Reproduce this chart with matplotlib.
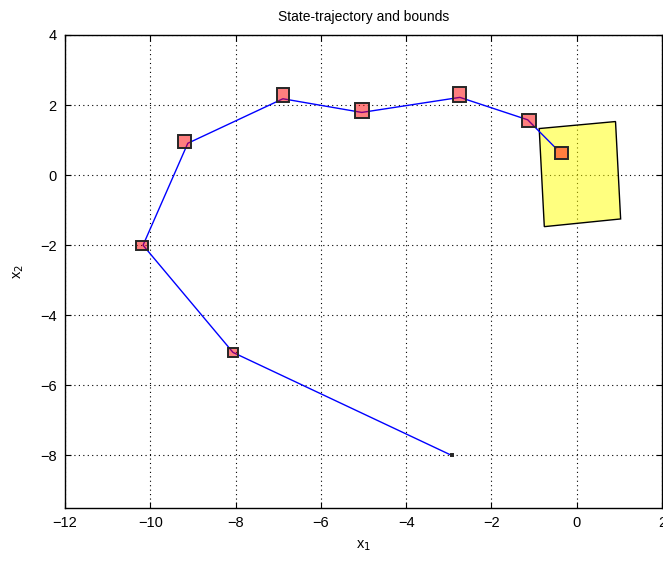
#!/usr/bin/env python3

import matplotlib
matplotlib.use('Agg')
import matplotlib.pyplot as plt
from matplotlib.patches import Rectangle, Polygon

# state trajectory (x1, x2)
traj_x1 = [-2.93, -8.06, -10.17, -9.12, -6.89, -5.04, -2.74, -1.15, -0.49]
traj_x2 = [-8.00, -5.06, -2.00, 0.91, 2.18, 1.79, 2.22, 1.58, 0.77]

# interval bounds around each state: centre and size
box_x1 = [-2.93, -8.06, -10.19, -9.19, -6.89, -5.04, -2.74, -1.12, -0.36]
box_x2 = [-8.00, -5.06, -2.02, 0.97, 2.30, 1.85, 2.30, 1.56, 0.63]
box_w = [0.04, 0.24, 0.28, 0.30, 0.30, 0.33, 0.30, 0.33, 0.31]
box_h = [0.06, 0.26, 0.26, 0.37, 0.40, 0.43, 0.43, 0.35, 0.36]

# terminal set polygon
set_x1 = [-0.88, 0.91, 1.03, -0.76]
set_x2 = [1.33, 1.53, -1.25, -1.47]


def main():
    plt.rcParams['font.family'] = ['Liberation Sans', 'DejaVu Sans']
    plt.rcParams['font.size'] = 10

    fig = plt.figure(figsize=(6.63, 5.65), dpi=100)
    ax = fig.add_axes([65 / 663, 57 / 565, 597 / 663, 473 / 565])

    ax.add_patch(Polygon(list(zip(set_x1, set_x2)), closed=True,
                         facecolor=(1, 1, 0, 0.5), edgecolor='black',
                         linewidth=1.0, zorder=2))

    ax.plot(traj_x1, traj_x2, color='blue', linewidth=1.0, zorder=3)

    for cx, cy, w, h in zip(box_x1, box_x2, box_w, box_h):
        ax.add_patch(Rectangle((cx - w / 2, cy - h / 2), w, h,
                               facecolor=(1, 0, 0, 0.5), edgecolor=(0.15, 0.15, 0.15),
                               linewidth=1.4, zorder=4))

    ax.set_xlim(-12, 2)
    ax.set_ylim(-9.5, 4)
    ax.set_xticks(range(-12, 3, 2))
    ax.set_yticks(range(-8, 5, 2))
    ax.grid(True, color='black', linestyle=(0, (1, 3)), linewidth=0.8)
    ax.set_axisbelow(True)
    ax.tick_params(direction='in', top=True, right=True, length=4, width=0.8,
                   labelsize=10.5, pad=6)
    for sp in ax.spines.values():
        sp.set_linewidth(1.0)

    ax.set_title('State-trajectory and bounds', fontsize=10, pad=10)
    ax.set_xlabel('x$_1$', fontsize=10.5, labelpad=6)
    ax.set_ylabel('x$_2$', fontsize=10.5, labelpad=10)

    fig.savefig('out.png', dpi=100)


if __name__ == '__main__':
    main()
